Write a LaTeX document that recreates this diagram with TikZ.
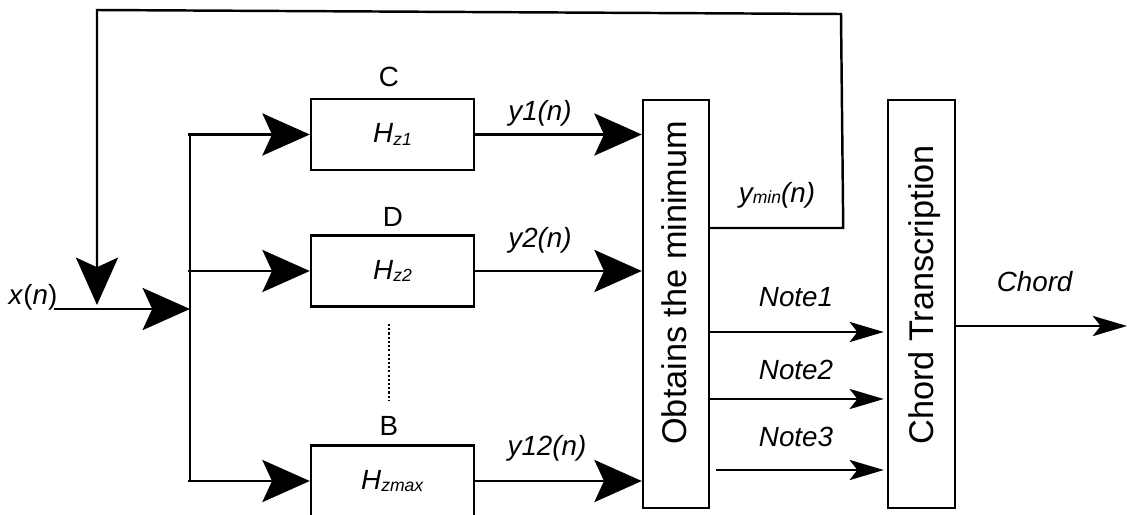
\documentclass[tikz,border=0pt]{standalone}
\usepackage{fontspec}
\setmainfont{Liberation Sans}
\usetikzlibrary{arrows.meta,calc}
\newcommand{\lblfont}{\fontsize{15.8}{19}\selectfont}
\newcommand{\blkfont}{\fontsize{19.5}{23}\selectfont}
\newcommand{\subfont}{\fontsize{10}{12}\selectfont}
\newcommand{\Hsub}[1]{\textit{H}\raisebox{-1.5pt}{\subfont\textit{#1}}}
\tikzset{
  % boxes and arrows of the filter bank
  blockbox/.style={draw, line width=1.4pt, inner sep=0pt},
  bigarrow/.style={line width=1.4pt, -{Stealth[length=27pt,width=24pt,inset=5.5pt]}},
  notearrow/.style={line width=1.3pt, -{Stealth[length=19.5pt,width=11.5pt,inset=4.5pt]}},
  lbl/.style={font=\lblfont, inner sep=0pt},
}
\begin{document}
\begin{tikzpicture}[x=0.02cm, y=-0.02cm]
            \clip (0,0) rectangle (1129,514);

            \node[blockbox, minimum width=3.26cm, minimum height=1.42cm, font=\lblfont] (h1) at (392.5,134.5) {\Hsub{z1}};
            \node[blockbox, minimum width=3.26cm, minimum height=1.42cm, font=\lblfont] (h2) at (392.5,271) {\Hsub{z2}};
            \node[blockbox, minimum width=3.26cm, minimum height=1.42cm, font=\lblfont] (h3) at (392.5,481) {\Hsub{zmax}};
            \node[lbl] (lc) at (389,77) {C};
            \node[lbl] (ld) at (393,217) {D};
            \node[lbl] (lb) at (389,426) {B};
            \draw[line width=1.2pt, dash pattern=on 1.2pt off 1.2pt] (389,324) -- (389,400);

            \node[blockbox, minimum width=1.32cm, minimum height=8.16cm] (minbox) at (676,304) {};
            \node[rotate=90, anchor=base west, font=\blkfont, inner sep=0pt] (mintext) at (686,445) {Obtains the minimum};
            \node[blockbox, minimum width=1.34cm, minimum height=8.16cm] (chord) at (921.5,304) {};
            \node[rotate=90, anchor=base west, font=\blkfont, inner sep=0pt] (chordtext) at (933,445) {Chord Transcription};

            % input and split
            \node[lbl] (xlbl) at (33,297) {\textit{x}(\textit{n})};
            \coordinate (xin) at (54,309);
            \coordinate (split) at (190,309);
            \draw[bigarrow] (xin) -- (split);
            \draw[line width=1.4pt] (split |- h1.west) -- (split |- h3.west);
            \foreach \b in {h1,h2,h3}
              \draw[bigarrow] ($(split |- \b.west)+(-2,0)$) -- (\b.west);
            \foreach \b in {h1,h2,h3}
              \draw[bigarrow] (\b.east) -- (\b.east -| minbox.west);
            \node[lbl] (ly1) at (540,113) {\textit{y1(n)}};
            \node[lbl] (ly2) at (540,240) {\textit{y2(n)}};
            \node[lbl] (ly12) at (547,448) {\textit{y12(n)}};

            % feedback of the minimum
            \coordinate (fbr) at (841,14);
            \coordinate (fbl) at (97,10);
            \coordinate (fbdown) at (97,305);
            \draw[bigarrow] ($(minbox.east)+(0,-76)$) -- ($(minbox.east)+(133,-76)$) -- (fbr) -- (fbl) -- (fbdown);
            \node[lbl] (lymin) at (777,195) {\textit{y\raisebox{-1pt}{\subfont min}(n)}};

            % notes
            \draw[notearrow] ($(minbox.east)+(0,28)$) -- ($(chord.west)+(-3,28)$);
            \draw[notearrow] ($(minbox.east)+(-2,95)$) -- ($(chord.west)+(-3,95)$);
            \draw[notearrow] ($(minbox.east)+(6,166)$) -- ($(chord.west)+(-3,166)$);
            \node[lbl] (ln1) at (796,297) {\textit{Note1}};
            \node[lbl] (ln2) at (796,370) {\textit{Note2}};
            \node[lbl] (ln3) at (796,437) {\textit{Note3}};

            \coordinate (cout) at (1127,326);
            \draw[notearrow] ($(chord.east)+(0,22)$) -- (cout);
            \node[lbl] (lchord) at (1035,282) {\textit{Chord}};
        \end{tikzpicture}
\end{document}
